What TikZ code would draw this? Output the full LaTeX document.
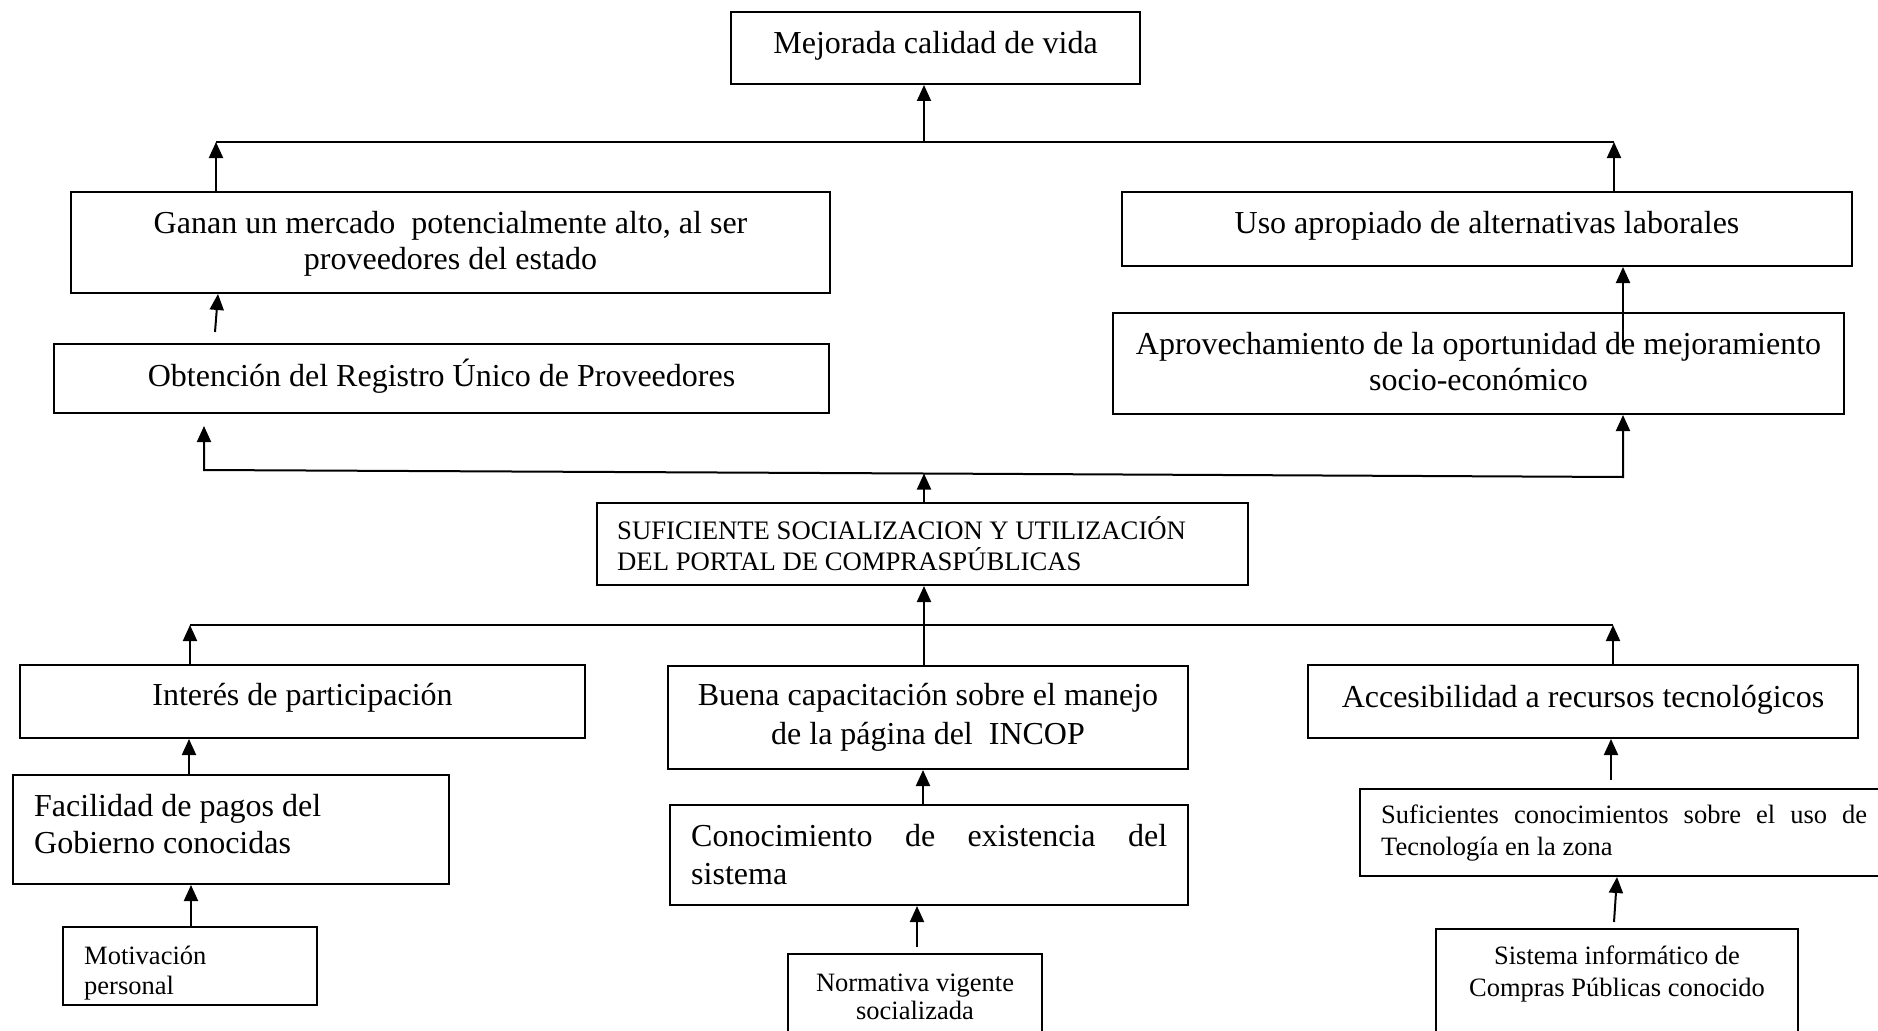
\documentclass[tikz,border=0pt]{standalone}
\usepackage{fontspec}
\setmainfont{Liberation Serif}
\usetikzlibrary{arrows.meta}
\begin{document}
\begin{tikzpicture}[x=1pt,y=-1pt,
  box/.style={draw=black,line width=2pt,inner sep=0pt,fill=none},
  ln/.style={line width=2pt},
  arr/.style={line width=2pt,-{Triangle[length=16pt,width=14pt]}},
  big/.style={font=\fontsize{32}{37}\selectfont,inner sep=0pt},
  small/.style={font=\fontsize{26.5}{30}\selectfont,inner sep=0pt},
  smallcap/.style={font=\fontsize{26.7}{30}\selectfont,inner sep=0pt}]
\useasboundingbox (0,0) rectangle (1878,1030);
\fill[white] (0,0) rectangle (1878,1030);
% boxes
\node[box,minimum width=409pt,minimum height=72pt] (mej) at (935.5,48) {};
\node[box,minimum width=759pt,minimum height=101pt] (gan) at (450.5,242.5) {};
\node[box,minimum width=730pt,minimum height=74pt] (uso) at (1487,229) {};
\node[box,minimum width=775pt,minimum height=69pt] (obt) at (441.5,378.5) {};
\node[box,minimum width=731pt,minimum height=101pt] (apr) at (1478.5,363.5) {};
\node[box,minimum width=651pt,minimum height=82pt] (suf) at (922.5,544) {};
\node[box,minimum width=565pt,minimum height=73pt] (int) at (302.5,701.5) {};
\node[box,minimum width=520pt,minimum height=103pt] (bue) at (928,717.5) {};
\node[box,minimum width=550pt,minimum height=73pt] (acc) at (1583,701.5) {};
\node[box,minimum width=436pt,minimum height=109pt] (fac) at (231,829.5) {};
\node[box,minimum width=518pt,minimum height=100pt] (con) at (929,855) {};
\node[box,minimum width=540pt,minimum height=87pt] (sic) at (1630,832.5) {};
\node[box,minimum width=254pt,minimum height=78pt] (mot) at (190,966) {};
\node[box,minimum width=254pt,minimum height=106pt] (nor) at (915,1007) {};
\node[box,minimum width=362pt,minimum height=131pt] (sis) at (1617,994.5) {};
% texts
\node[big,anchor=base] (tmej) at (935.5,54) {Mejorada calidad de vida};
\node[big,anchor=base] (tgan1) at (450.5,233) {Ganan un mercado~~potencialmente alto, al ser};
\node[big,anchor=base] (tgan2) at (450.5,269) {proveedores del estado};
\node[big,anchor=base] (tobt) at (441.5,386) {Obtención del Registro Único de Proveedores};
\node[big,anchor=base] (tuso) at (1487,233) {Uso apropiado de alternativas laborales};
\node[big,anchor=base] (tapr1) at (1478.5,354) {Aprovechamiento de la oportunidad de mejoramiento};
\node[big,anchor=base] (tapr2) at (1478.5,390) {socio-económico};
\node[smallcap,anchor=base west] (tsuf1) at (617,539) {SUFICIENTE SOCIALIZACION Y UTILIZACIÓN};
\node[smallcap,anchor=base west] (tsuf2) at (617,570) {DEL PORTAL DE COMPRASPÚBLICAS};
\node[big,anchor=base] (tint) at (302.5,705) {Interés de participación};
\node[big,anchor=base] (tbue1) at (928,705) {Buena capacitación sobre el manejo};
\node[big,anchor=base] (tbue2) at (928,744) {de la página del~~INCOP};
\node[big,anchor=base] (tacc) at (1583,707) {Accesibilidad a recursos tecnológicos};
\node[big,anchor=base west] (tfac1) at (34,816) {Facilidad de pagos del};
\node[big,anchor=base west] (tfac2) at (34,853) {Gobierno conocidas};
\node[big,anchor=base west] (tcon1) at (691,846) {\makebox[476pt][l]{Conocimiento\hfill de\hfill existencia\hfill del}};
\node[big,anchor=base west] (tcon2) at (691,884) {sistema};
\node[small,anchor=base west] (tsic1) at (1381,823) {\makebox[486pt][l]{Suficientes\hfill conocimientos\hfill sobre\hfill el\hfill uso\hfill de}};
\node[small,anchor=base west] (tsic2) at (1381,855) {Tecnología en la zona};
\node[small,anchor=base west] (tmot1) at (84,964) {Motivación};
\node[small,anchor=base west] (tmot2) at (84,994) {personal};
\node[small,anchor=base] (tnor1) at (915,991) {Normativa vigente};
\node[small,anchor=base] (tnor2) at (915,1019) {socializada};
\node[small,anchor=base] (tsis1) at (1617,964) {Sistema informático de};
\node[small,anchor=base] (tsis2) at (1617,996) {Compras Públicas conocido};
% top bus
\coordinate (b1L) at (216,142);
\coordinate (b1R) at (1614,142);
\coordinate (b1C) at (924,142);
\draw[ln] (b1L) -- (b1R);
\draw[arr] (216,0 |- gan.north) -- (b1L);
\draw[arr] (1614,0 |- uso.north) -- (b1R);
\draw[arr] (b1C) -- (924,0 |- mej.south);
% second level
\coordinate (o1) at (215,332);
\draw[arr] (o1) -- (218,0 |- gan.south);
\coordinate (a1) at (1623,348);
\draw[arr] (a1) -- (1623,0 |- uso.south);
% middle bus
\coordinate (b2L) at (204,470);
\coordinate (b2R) at (1623,477);
\coordinate (b2C) at (924,473.5);
\coordinate (o2) at (204,426);
\draw[arr] (b2C) -- (b2L) -- (o2);
\draw[arr] (b2C) -- (b2R) -- (1623,0 |- apr.south);
\draw[arr] (924,0 |- suf.north) -- (b2C);
% bottom bus
\coordinate (b3L) at (190,625);
\coordinate (b3R) at (1613,625);
\draw[ln] (b3L) -- (b3R);
\draw[arr] (190,0 |- int.north) -- (b3L);
\draw[arr] (1613,0 |- acc.north) -- (b3R);
\draw[arr] (924,0 |- bue.north) -- (924,0 |- suf.south);
% lower chains
\draw[arr] (189,0 |- fac.north) -- (189,0 |- int.south);
\draw[arr] (191,0 |- mot.north) -- (191,0 |- fac.south);
\draw[arr] (923,0 |- con.north) -- (923,0 |- bue.south);
\coordinate (n1) at (917,947);
\draw[arr] (n1) -- (917,0 |- con.south);
\coordinate (s1) at (1611,780);
\draw[arr] (s1) -- (1611,0 |- acc.south);
\coordinate (s2) at (1614,922);
\draw[arr] (s2) -- (1617,0 |- sic.south);
\end{tikzpicture}
\end{document}
